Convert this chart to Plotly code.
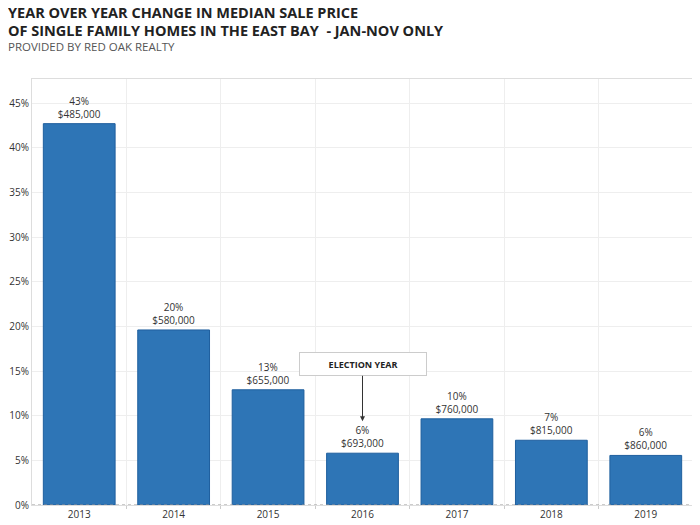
import plotly.graph_objects as go

years = ["2013", "2014", "2015", "2016", "2017", "2018", "2019"]
pct_change = [42.7, 19.6, 12.9, 5.8, 9.65, 7.25, 5.55]
pct_labels = ["43%", "20%", "13%", "6%", "10%", "7%", "6%"]
median_price = ["$485,000", "$580,000", "$655,000", "$693,000", "$760,000", "$815,000", "$860,000"]
y_ticks = [0, 5, 10, 15, 20, 25, 30, 35, 40, 45]

labels = [f"{p}<br>{m}" for p, m in zip(pct_labels, median_price)]
pos = list(range(len(years)))
y_ticktext = [f"{v}%" for v in y_ticks]

fig = go.Figure()
fig.add_trace(go.Bar(
    x=pos, y=pct_change, text=labels, textposition="outside",
    textfont=dict(size=10, color="#333333"),
    marker=dict(color="#2e75b6", line=dict(color="#1f5f9e", width=1)),
    width=0.76, cliponaxis=False, hoverinfo="skip",
))

fig.add_annotation(
    x=pos[years.index("2016")], y=9.37, xref="x", yref="y",
    text="<b>ELECTION YEAR</b>", showarrow=True,
    ax=0, ay=-57, arrowhead=2, arrowsize=1, arrowwidth=1, arrowcolor="#333333",
    font=dict(size=9, color="#222222"),
    bgcolor="white", bordercolor="#cccccc", borderwidth=1,
    width=122, height=18, borderpad=2,
)

fig.add_shape(type="line", xref="paper", yref="y", x0=0, x1=1, y0=0, y1=0,
              line=dict(color="#999999", width=1, dash="dot"))

fig.update_layout(
    width=692, height=517,
    margin=dict(l=24, r=7, t=71, b=19.5, autoexpand=False),
    paper_bgcolor="white", plot_bgcolor="white",
    showlegend=False,
    font=dict(family="Open Sans", color="#333333"),
)
title_x = -0.0393
fig.add_annotation(
    xref="paper", yref="paper", x=title_x, y=1.157, xanchor="left", yanchor="middle",
    text="<b>YEAR OVER YEAR CHANGE IN MEDIAN SALE PRICE</b>",
    showarrow=False, align="left", font=dict(size=14.5, color="#222222"),
)
fig.add_annotation(
    xref="paper", yref="paper", x=title_x, y=1.115, xanchor="left", yanchor="middle",
    text="<b>OF SINGLE FAMILY HOMES IN THE EAST BAY  - JAN-NOV ONLY</b>",
    showarrow=False, align="left", font=dict(size=14.5, color="#222222"),
)
fig.add_annotation(
    xref="paper", yref="paper", x=title_x, y=1.077, xanchor="left", yanchor="middle",
    text="PROVIDED BY RED OAK REALTY",
    showarrow=False, align="left", font=dict(size=11.5, color="#555555"),
)
fig.update_xaxes(
    range=[-0.5, 6.5], tickmode="array", tickvals=pos, ticktext=years,
    showgrid=False, zeroline=False, automargin=False,
    minor=dict(tickmode="array", tickvals=[p + 0.5 for p in pos[:-1]], showgrid=True,
               gridcolor="#eeeeee", ticks="outside", ticklen=3, tickcolor="#cccccc"),
    showline=True, mirror=True, linecolor="#dddddd", ticks="",
    tickfont=dict(size=10, color="#333333"),
)
fig.update_yaxes(
    range=[0, 47.7], tickmode="array", tickvals=y_ticks, ticktext=y_ticktext,
    showgrid=True, gridcolor="#eeeeee", automargin=False,
    showline=True, mirror=True, linecolor="#dddddd", zeroline=False,
    tickfont=dict(size=10, color="#333333"),
)

fig.write_html("out.html")
